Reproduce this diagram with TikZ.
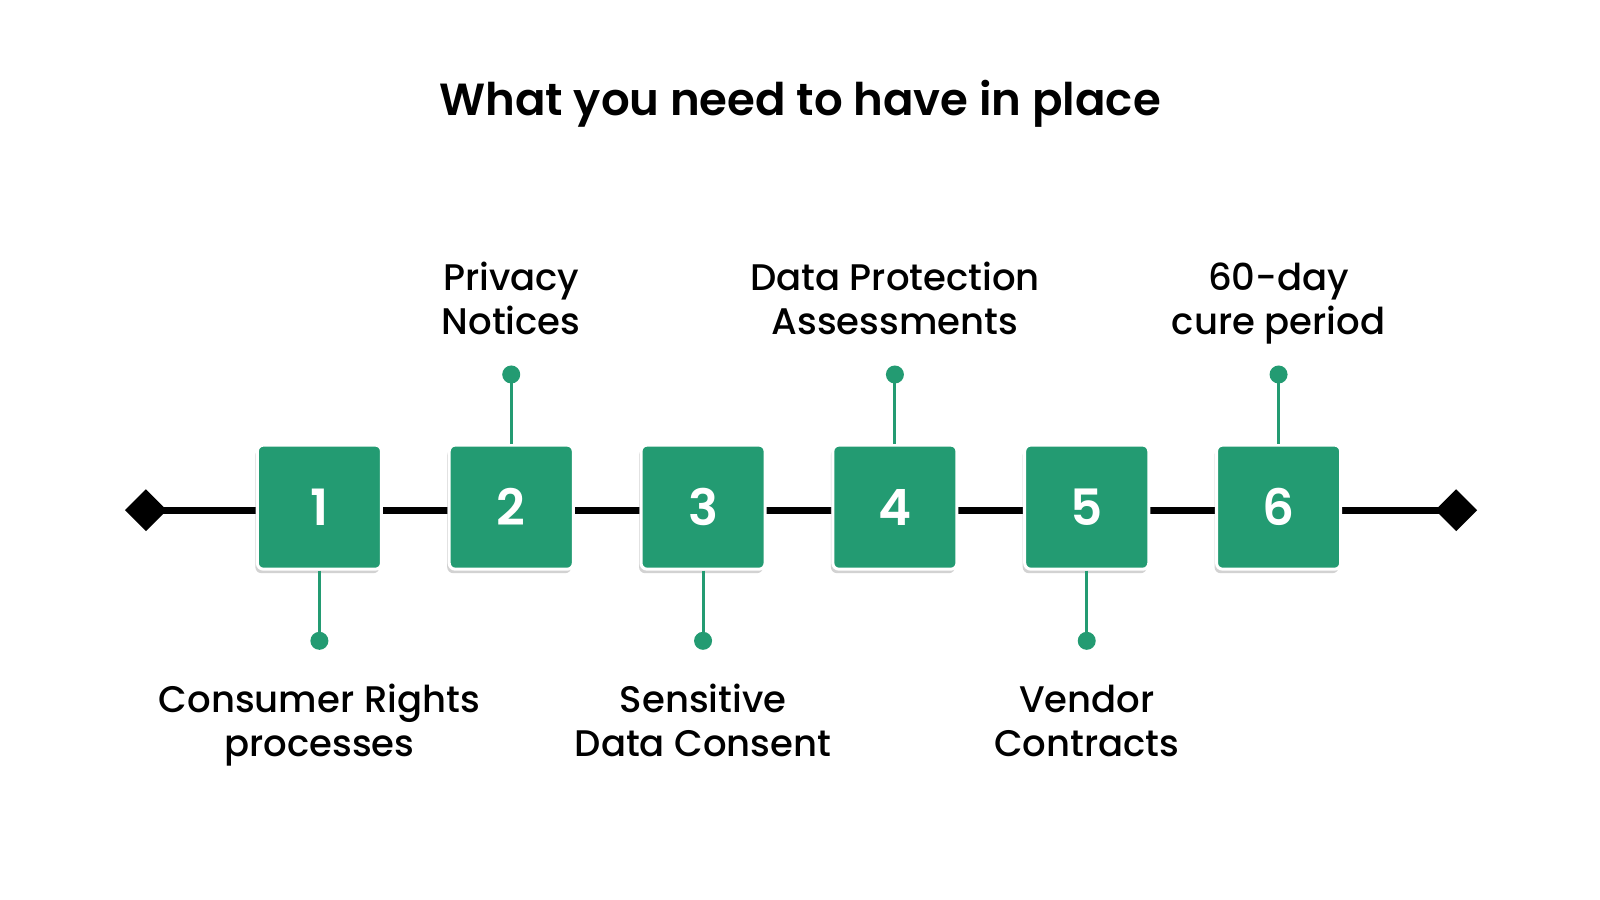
\documentclass[tikz,border=0pt]{standalone}
\usepackage{fontspec}
\setmainfont{Poppins}
\newfontfamily\semib{Poppins SemiBold}
\newfontfamily\medi{Poppins Medium}
\usetikzlibrary{shapes.geometric,shadows}
\definecolor{grn}{HTML}{239B72}
\begin{document}
\begin{tikzpicture}[x=1.02pt,y=-1.02pt,
  box/.style={rectangle,rounded corners=6pt,fill=grn,draw=white,line width=3pt,minimum size=124pt,
    font=\fontsize{50}{50}\selectfont\semib,text=white,
    drop shadow={shadow xshift=-2pt,shadow yshift=-4pt,fill=black!35,opacity=0.5}},
  lbl/.style={font=\fontsize{37}{44}\selectfont\medi,align=center,text=black},
  dot/.style={circle,fill=grn,inner sep=0,minimum size=18pt},
  conn/.style={draw=grn,line width=3pt},
  end/.style={diamond,fill=black,inner sep=0,minimum size=42pt}]
\useasboundingbox (0,0) rectangle (1568,882);
\node[font=\fontsize{45}{45}\selectfont\semib] (title) at (784,103) {\strut What you need to have in place};
\node[end] (L) at (143,500) {};
\node[end] (R) at (1427,500) {};
\draw[line width=7pt] (L.center) -- (R.center);
\foreach \i/\x in {1/313,2/501,3/689,4/877,5/1065,6/1253}{
  \node[box] (b\i) at (\x,497) {\i};
}
\foreach \i/\x in {1/313,3/689,5/1065}{
  \node[dot] (d\i) at (\x,628) {};
  \draw[conn] (b\i.south) -- (d\i.center);
}
\foreach \i/\x in {2/501,4/877,6/1253}{
  \node[dot] (d\i) at (\x,367) {};
  \draw[conn] (b\i.north) -- (d\i.center);
}
\node[lbl] (t1) at (313,711) {\strut Consumer Rights\\\strut processes};
\node[lbl] (t3) at (689,711) {\strut Sensitive\\\strut Data Consent};
\node[lbl] (t5) at (1065,711) {\strut Vendor\\\strut Contracts};
\node[lbl] (t2) at (501,298) {\strut Privacy\\\strut Notices};
\node[lbl] (t4) at (877,298) {\strut Data Protection\\\strut Assessments};
\node[lbl] (t6) at (1253,298) {\strut 60-day\\\strut cure period};
\end{tikzpicture}
\end{document}
